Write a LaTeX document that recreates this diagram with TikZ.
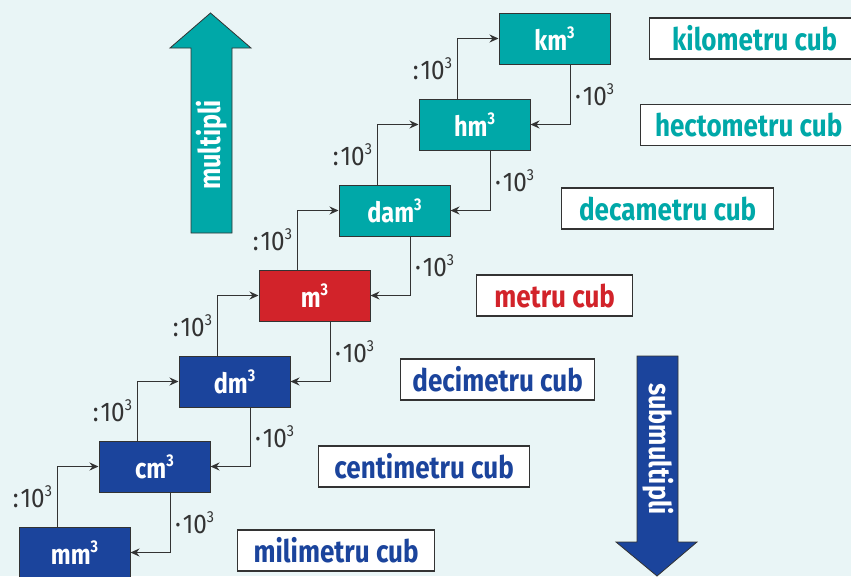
\documentclass[tikz,border=0pt]{standalone}
\usepackage{fontspec}
\setmainfont{Fira Sans}
\newfontfamily\condf[FakeStretch=0.84]{Fira Sans}
\newfontfamily\condl[FakeStretch=0.9]{Fira Sans}
\usetikzlibrary{arrows.meta,calc}
\definecolor{bg}{HTML}{E9F5F6}
\definecolor{teal1}{HTML}{00A8A8}
\definecolor{red1}{HTML}{D2232A}
\definecolor{blue1}{HTML}{1B449C}
\definecolor{line1}{HTML}{333333}
\newcommand{\cubp}{\raisebox{0.42em}{\fontsize{17}{17}\selectfont 3}}
\newcommand{\cubf}{\raisebox{0.4em}{\fontsize{16}{16}\selectfont 3}}
\begin{document}
\begin{tikzpicture}[x=1pt,y=-1pt,
 unit/.style={draw=line1,line width=1pt,minimum width=111pt,minimum height=51pt,inner sep=0pt,font=\condf\bfseries\fontsize{28}{28}\selectfont,text=white},
 lab/.style={draw=line1,fill=white,line width=1.3pt,minimum height=41pt,inner sep=0pt,anchor=west,font=\condf\bfseries\fontsize{31}{31}\selectfont},
 conn/.style={line1,line width=1.1pt,-{Stealth[length=9pt,width=8pt,inset=3pt]}},
 fac/.style={font=\condl\fontsize{27}{27}\selectfont,text=line1},
 bigarrow/.style={draw=line1,line width=0.8pt},
 arrtext/.style={text=white,font=\condf\bfseries\fontsize{30}{30}\selectfont}]
\useasboundingbox (0,0) rectangle (851,576);
\clip (0,0) rectangle (851,576);
\fill[bg] (0,0) rectangle (851,576);

% big arrows
\draw[bigarrow,fill=teal1] (191,233) -- (191,48) -- (170,48) -- (210.5,13) -- (251,48) -- (232,48) -- (232,233) -- cycle;
\node[rotate=90,arrtext] (mlt) at (211.5,145) {multipli};
\draw[bigarrow,fill=blue1] (637,356) -- (678,356) -- (678,542) -- (697,542) -- (657,576) -- (616,542) -- (637,542) -- cycle;
\node[rotate=-90,arrtext] (smlt) at (658,449) {submultipli};

% unit boxes
\node[unit,fill=blue1] (mm)  at (74.5,552.5) {mm\cubp};
\node[unit,fill=blue1] (cm)  at (154.5,466.5) {cm\cubp};
\node[unit,fill=blue1] (dm)  at (234.5,381.5) {dm\cubp};
\node[unit,fill=red1]  (m)   at (314.5,295.5) {m\cubp};
\node[unit,fill=teal1] (dam) at (394.5,210.5) {dam\cubp};
\node[unit,fill=teal1] (hm)  at (474.5,124.5) {hm\cubp};
\node[unit,fill=teal1] (km)  at (554.5,38.5) {km\cubp};

% connectors
\foreach \a/\b in {mm/cm,cm/dm,dm/m,m/dam,dam/hm,hm/km}{
  \draw[conn] ([xshift=39pt]\a.north west) |- node[fac,pos=0.25,left,inner xsep=5pt]{:\kern2pt10\cubf} (\b.west);
  \draw[conn] ([xshift=72pt]\b.south west) |- node[fac,pos=0.25,right,inner xsep=4pt]{·\kern2pt10\cubf} (\a.east);
}

% name labels
\node[lab,text=blue1,minimum width=197pt] (lmm) at (237,550.5) {milimetru cub};
\node[lab,text=blue1,minimum width=211pt] (lcm) at (318,466.5) {centimetru cub};
\node[lab,text=blue1,minimum width=194pt] (ldm) at (400,379.5) {decimetru cub};
\node[lab,text=red1,minimum width=156pt] (lm) at (476,295.5) {metru cub};
\node[lab,text=teal1,minimum width=212pt] (ldam) at (561,208.5) {decametru cub};
\node[lab,text=teal1,minimum width=216pt] (lhm) at (640,125) {hectometru cub};
\node[lab,text=teal1,minimum width=210pt] (lkm) at (649,38.5) {kilometru cub};
\end{tikzpicture}
\end{document}
